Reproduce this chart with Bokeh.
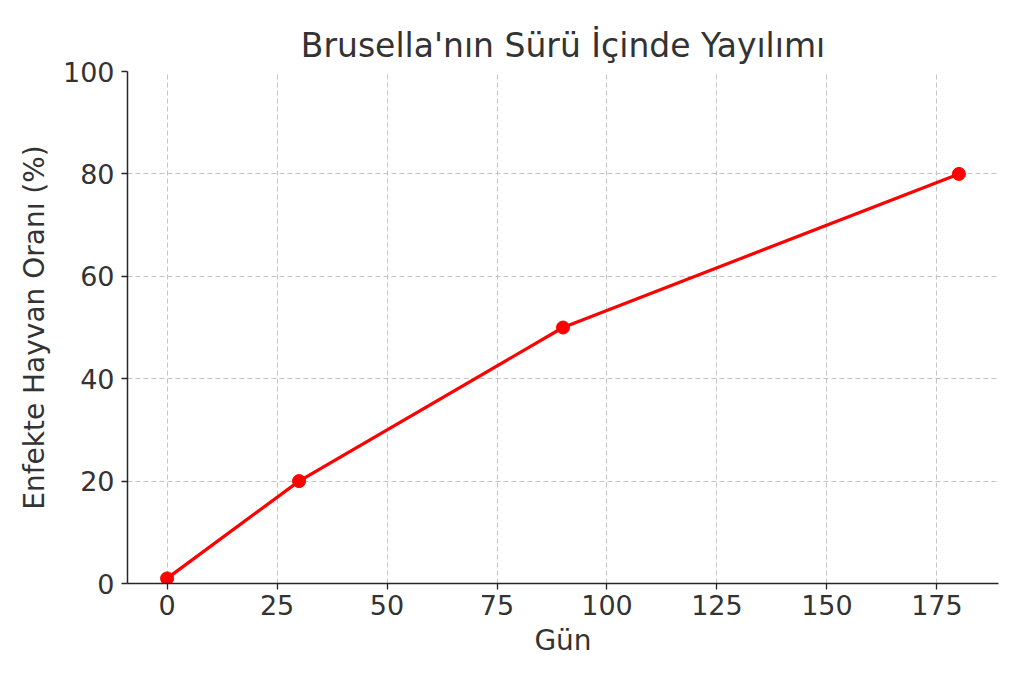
from bokeh.plotting import figure
from bokeh.models import Range1d, FixedTicker
from bokeh.embed import file_html
from bokeh.resources import INLINE

days = [0, 30, 90, 180]
infected_pct = [1, 20, 50, 80]
x_ticks = [0, 25, 50, 75, 100, 125, 150, 175]
y_ticks = [0, 20, 40, 60, 80, 100]

FONT = "DejaVu Sans"
TXT = "#333333"

p = figure(width=1008, height=667, output_backend="svg", toolbar_location=None,
           x_range=Range1d(-9, 189), y_range=Range1d(0, 100),
           min_border_left=127, min_border_right=10, min_border_top=71, min_border_bottom=84,
           title="Brusella'nın Sürü İçinde Yayılımı")
p.outline_line_color = None
p.background_fill_color = "white"
p.border_fill_color = "white"

p.title.align = "center"
p.title.text_font = FONT
p.title.text_font_size = "33px"
p.title.text_font_style = "normal"
p.title.text_color = TXT
p.title.standoff = 13

for ax in (p.xaxis[0], p.yaxis[0]):
    ax.axis_line_color = "#262626"
    ax.axis_line_width = 1.5
    ax.major_tick_line_color = "#262626"
    ax.major_tick_line_width = 1.3
    ax.major_tick_out = 6
    ax.major_tick_in = 0
    ax.minor_tick_line_color = None
    ax.major_label_text_font = FONT
    ax.major_label_text_font_size = "27px"
    ax.major_label_text_color = TXT
    ax.axis_label_text_font = FONT
    ax.axis_label_text_font_size = "28px"
    ax.axis_label_text_font_style = "normal"
    ax.axis_label_text_color = TXT

p.xaxis.ticker = FixedTicker(ticks=x_ticks)
p.yaxis.ticker = FixedTicker(ticks=y_ticks)
p.xaxis.axis_label = "Gün"
p.yaxis.axis_label = "Enfekte Hayvan Oranı (%)"
p.xaxis.major_label_standoff = 5
p.yaxis.major_label_standoff = 7
p.xaxis.axis_label_standoff = 6
p.yaxis.axis_label_standoff = 9

for g in (p.xgrid[0], p.ygrid[0]):
    g.grid_line_color = "#c4c4c4"
    g.grid_line_dash = "5 3"
    g.grid_line_width = 1

p.line(days, infected_pct, line_color="red", line_width=3.2)
p.scatter(days, infected_pct, size=13, fill_color="red", line_color="red")

open("out.html", "w").write(file_html(p, INLINE))
